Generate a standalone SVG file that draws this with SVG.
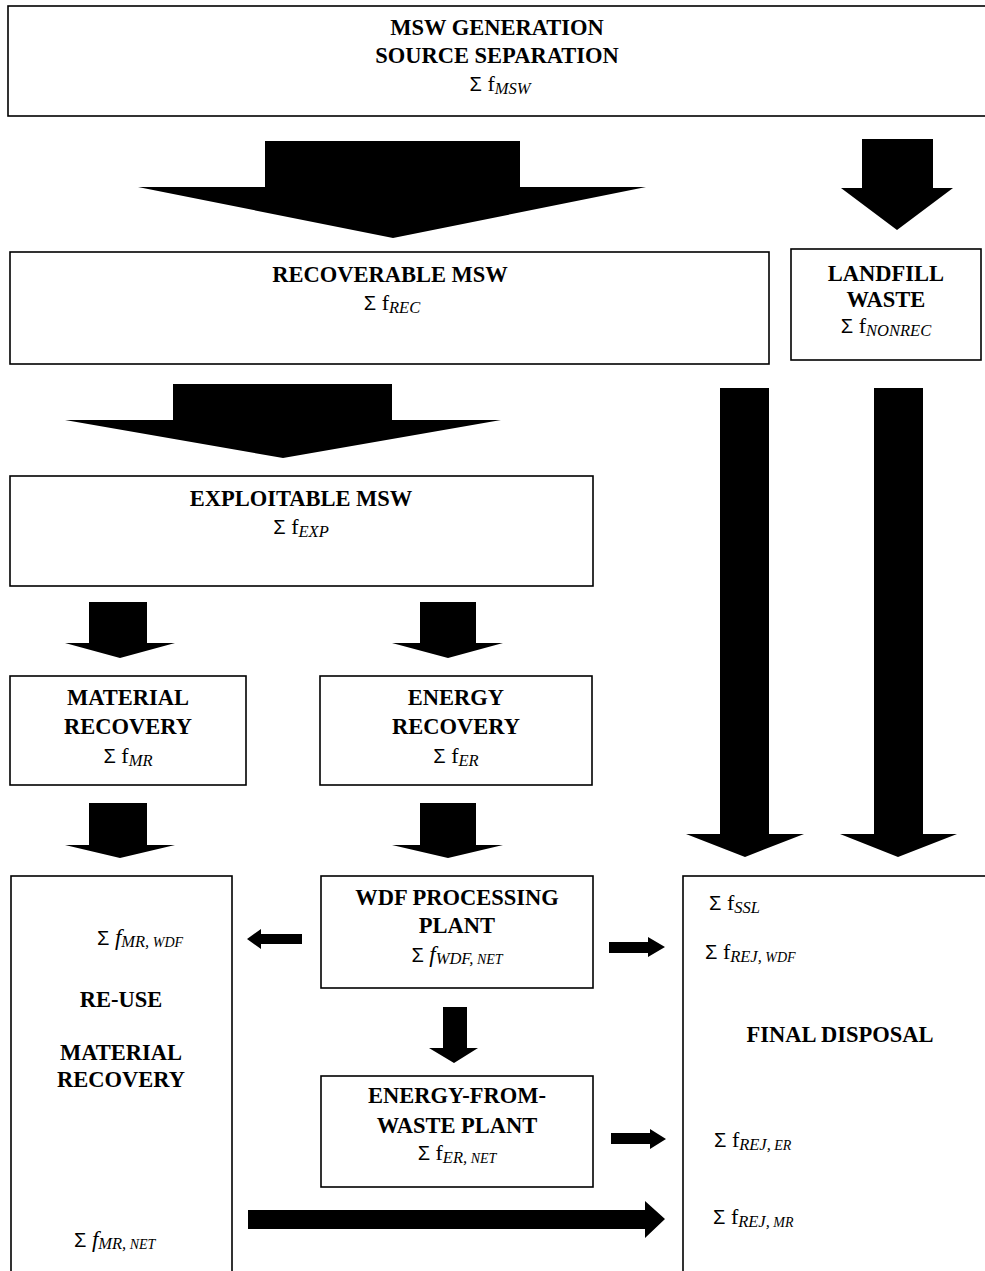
<svg xmlns="http://www.w3.org/2000/svg" width="985" height="1271" viewBox="0 0 985 1271">
  <style>
    .box { fill: #ffffff; stroke: #000000; stroke-width: 1.6; }
    .arr { fill: #000000; }
    .t { font-family: "Liberation Serif", "Times New Roman", serif; font-weight: bold; font-size: 22.5px; fill: #000; }
    .s { font-family: "Liberation Serif", "Times New Roman", serif; font-size: 22px; fill: #000; }
    .sig { font-family: "Liberation Sans", Arial, sans-serif; font-size: 20px; }
    .fi { font-style: italic; font-size: 23px; }
    .sub { font-style: italic; font-size: 16.5px; }
    .sm { font-style: italic; font-size: 14px; }
  </style>
  <rect width="985" height="1271" fill="#ffffff"/>

  <!-- flow arrows -->
  <g id="connectors">
    <polygon class="arr" points="265,141 520,141 520,187 646,187 393,238 138,187 265,187"/>
    <polygon class="arr" points="862,139 933,139 933,188 953,188 897,230 841,188 862,188"/>
    <polygon class="arr" points="173,384 392,384 392,420 501,420 283,458 65,420 173,420"/>
    <polygon class="arr" points="720,388 769,388 769,834 804,834 745,857 686,834 720,834"/>
    <polygon class="arr" points="874,388 923,388 923,834 957,834 898,857 840,834 874,834"/>
    <polygon class="arr" points="89,602 147,602 147,643 175,643 120,658 65,643 89,643"/>
    <polygon class="arr" points="420,602 476,602 476,643 503,643 448,658 392,643 420,643"/>
    <polygon class="arr" points="89,803 147,803 147,845 175,845 120,858 65,845 89,845"/>
    <polygon class="arr" points="420,803 476,803 476,845 503,845 448,858 392,845 420,845"/>
    <polygon class="arr" points="302,934 302,944 261,944 261,949 247,939 261,929 261,934"/>
    <polygon class="arr" points="609,942 648,942 648,937 665,947 648,957 648,953 609,953"/>
    <polygon class="arr" points="443,1007 467,1007 467,1048 478,1048 454,1063 429,1048 443,1048"/>
    <polygon class="arr" points="611,1133 650,1133 650,1129 666,1139 650,1149 650,1144 611,1144"/>
    <polygon class="arr" points="248,1210 645,1210 645,1201 665,1219 645,1238 645,1229 248,1229"/>
  </g>

  <g id="msw-generation">
    <rect class="box" x="8" y="6" width="985" height="110"/>
    <text class="t" x="497" y="35" text-anchor="middle">MSW GENERATION</text>
    <text class="t" x="497" y="63" text-anchor="middle">SOURCE SEPARATION</text>
    <text class="s" x="500" y="91" text-anchor="middle"><tspan class="sig">Σ</tspan> f<tspan class="sub" dy="3">MSW</tspan></text>
  </g>

  <g id="recoverable-msw">
    <rect class="box" x="10" y="252" width="759" height="112"/>
    <text class="t" x="390" y="282" text-anchor="middle">RECOVERABLE MSW</text>
    <text class="s" x="392" y="310" text-anchor="middle"><tspan class="sig">Σ</tspan> f<tspan class="sub" dy="3">REC</tspan></text>
  </g>

  <g id="landfill-waste">
    <rect class="box" x="791" y="249" width="190" height="111"/>
    <text class="t" x="886" y="281" text-anchor="middle">LANDFILL</text>
    <text class="t" x="886" y="307" text-anchor="middle">WASTE</text>
    <text class="s" x="886" y="333" text-anchor="middle"><tspan class="sig">Σ</tspan> f<tspan class="sub" dy="3">NONREC</tspan></text>
  </g>

  <g id="exploitable-msw">
    <rect class="box" x="10" y="476" width="583" height="110"/>
    <text class="t" x="301" y="506" text-anchor="middle">EXPLOITABLE MSW</text>
    <text class="s" x="301" y="534" text-anchor="middle"><tspan class="sig">Σ</tspan> f<tspan class="sub" dy="3">EXP</tspan></text>
  </g>

  <g id="material-recovery">
    <rect class="box" x="10" y="676" width="236" height="109"/>
    <text class="t" x="128" y="705" text-anchor="middle">MATERIAL</text>
    <text class="t" x="128" y="734" text-anchor="middle">RECOVERY</text>
    <text class="s" x="128" y="763" text-anchor="middle"><tspan class="sig">Σ</tspan> f<tspan class="sub" dy="3">MR</tspan></text>
  </g>

  <g id="energy-recovery">
    <rect class="box" x="320" y="676" width="272" height="109"/>
    <text class="t" x="456" y="705" text-anchor="middle">ENERGY</text>
    <text class="t" x="456" y="734" text-anchor="middle">RECOVERY</text>
    <text class="s" x="456" y="763" text-anchor="middle"><tspan class="sig">Σ</tspan> f<tspan class="sub" dy="3">ER</tspan></text>
  </g>

  <g id="reuse-material-recovery">
    <rect class="box" x="11" y="876" width="221" height="420"/>
    <text class="s" x="97" y="945"><tspan class="sig">Σ</tspan> <tspan class="fi">f</tspan><tspan class="sub" dy="2">MR,</tspan><tspan class="sm"> WDF</tspan></text>
    <text class="t" x="121" y="1007" text-anchor="middle">RE-USE</text>
    <text class="t" x="121" y="1060" text-anchor="middle">MATERIAL</text>
    <text class="t" x="121" y="1087" text-anchor="middle">RECOVERY</text>
    <text class="s" x="74" y="1247"><tspan class="sig">Σ</tspan> <tspan class="fi">f</tspan><tspan class="sub" dy="2">MR,</tspan><tspan class="sm"> NET</tspan></text>
  </g>

  <g id="wdf-processing-plant">
    <rect class="box" x="321" y="876" width="272" height="112"/>
    <text class="t" x="457" y="905" text-anchor="middle">WDF PROCESSING</text>
    <text class="t" x="457" y="933" text-anchor="middle">PLANT</text>
    <text class="s" x="457" y="962" text-anchor="middle"><tspan class="sig">Σ</tspan> <tspan class="fi">f</tspan><tspan class="sub" dy="2">WDF,</tspan><tspan class="sm"> NET</tspan></text>
  </g>

  <g id="energy-from-waste-plant">
    <rect class="box" x="321" y="1076" width="272" height="111"/>
    <text class="t" x="457" y="1103" text-anchor="middle">ENERGY-FROM-</text>
    <text class="t" x="457" y="1133" text-anchor="middle">WASTE PLANT</text>
    <text class="s" x="457" y="1160" text-anchor="middle"><tspan class="sig">Σ</tspan> f<tspan class="sub" dy="3">ER,</tspan><tspan class="sm"> NET</tspan></text>
  </g>

  <g id="final-disposal">
    <rect class="box" x="683" y="876" width="330" height="420"/>
    <text class="s" x="709" y="910"><tspan class="sig">Σ</tspan> f<tspan class="sub" dy="3">SSL</tspan></text>
    <text class="s" x="705" y="959"><tspan class="sig">Σ</tspan> f<tspan class="sub" dy="3">REJ,</tspan><tspan class="sm"> WDF</tspan></text>
    <text class="t" x="840" y="1042" text-anchor="middle">FINAL DISPOSAL</text>
    <text class="s" x="714" y="1147"><tspan class="sig">Σ</tspan> f<tspan class="sub" dy="3">REJ,</tspan><tspan class="sm"> ER</tspan></text>
    <text class="s" x="713" y="1224"><tspan class="sig">Σ</tspan> f<tspan class="sub" dy="3">REJ,</tspan><tspan class="sm"> MR</tspan></text>
  </g>
</svg>
